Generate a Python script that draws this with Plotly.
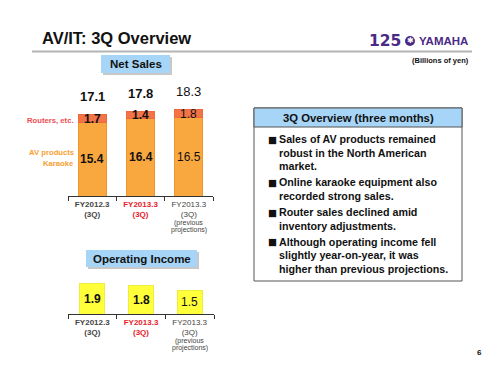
import plotly.graph_objects as go

# ---------------- data ----------------
categories = ["FY2012.3 (3Q)", "FY2013.3 (3Q)", "FY2013.3 (3Q) previous projections"]
tick_labels = [
    "<b>FY2012.3<br>(3Q)</b>",
    "<b><span style='color:#E8202A'>FY2013.3</span><br><span style='color:#E8202A'>(3Q)</span></b>",
    "FY2013.3<br>(3Q)",
]
sub_note = [[], [], ["(previous", "projections)"]]
av_karaoke = [15.4, 16.4, 16.5]
routers = [1.7, 1.4, 1.8]
operating_income = [1.9, 1.8, 1.5]
label_bold = [True, True, False]

overview_title = "3Q Overview (three months)"
bullets = [
    ["Sales of AV products remained", "robust in the North American", "market."],
    ["Online karaoke equipment also", "recorded strong sales."],
    ["Router sales declined amid", "inventory adjustments."],
    ["Although operating income fell", "slightly year-on-year, it was", "higher than previous projections."],
]

W, H = 500, 375
FONT = "Liberation Sans, Arial, sans-serif"


def X(px):
    return px / W


def Y(py):
    return 1 - py / H


ORANGE = "#F9A840"
ORANGE_EDGE = "#F2952C"
RED = "#F47448"
YELLOW = "#FFFF3A"
BLUE = "#A6D5F7"

fig = go.Figure()

fig.add_trace(go.Bar(x=categories, y=av_karaoke, width=0.58, marker=dict(color=ORANGE, line=dict(color=ORANGE_EDGE, width=1)),
                     xaxis="x", yaxis="y", hoverinfo="skip", name="AV products / Karaoke"))
fig.add_trace(go.Bar(x=categories, y=routers, width=0.58, marker=dict(color=RED, line=dict(color="#EE6A3A", width=1)),
                     xaxis="x", yaxis="y", hoverinfo="skip", name="Routers, etc."))
fig.add_trace(go.Bar(x=categories, y=operating_income, width=0.52, marker=dict(color=YELLOW, line=dict(color="#EDED40", width=1)),
                     xaxis="x2", yaxis="y2", hoverinfo="skip", name="Operating Income"))

ann = []


def A(**kw):
    kw.setdefault("xanchor", "center")
    kw.setdefault("yanchor", "middle")
    kw.setdefault("showarrow", False)
    ann.append(kw)


def P(x, y, text, size, color="#111", family=FONT, **kw):
    A(x=X(x), y=Y(y), xref="paper", yref="paper", text=text, font=dict(size=size, color=color, family=family), **kw)


def fmt(v, bold):
    s = f"{v:.1f}"
    return f"<b>{s}</b>" if bold else s


for i, c in enumerate(categories):
    b = label_bold[i]
    tot = av_karaoke[i] + routers[i]
    A(x=c, y=av_karaoke[i] / 2, xref="x", yref="y", text=fmt(av_karaoke[i], b),
      font=dict(size=12, color="#111", family=FONT))
    A(x=c, y=av_karaoke[i] + routers[i] / 2, xref="x", yref="y", text=fmt(routers[i], b),
      font=dict(size=12, color="#111", family=FONT))
    A(x=c, y=tot, xref="x", yref="y", text=fmt(tot, b), yshift=18,
      font=dict(size=13, color="#111", family=FONT))
    A(x=c, y=operating_income[i] / 2, xref="x2", yref="y2", text=fmt(operating_income[i], b),
      font=dict(size=12, color="#111", family=FONT))
    for ax_ref, base_py in (("x", 222.5), ("x2", 341)):
        for k, line in enumerate(sub_note[i]):
            A(x=c, xref=ax_ref, y=Y(base_py + 7.3 * k), yref="paper", text=line,
              font=dict(size=7, color="#444", family=FONT))

# titles / texts
P(40, 38, "<b>AV/IT: 3Q Overview</b>", 16.5, xanchor="left")
P(403, 41, "<b>125</b>", 15.5, color="#4B2A86", family="DejaVu Sans, sans-serif", xanchor="right")
P(410, 41, "<b>✱</b>", 8, color="white", family="DejaVu Sans, sans-serif")
P(470, 41, "<b>YAMAHA</b>", 11.5, color="#4B2A86", xanchor="right")
P(471, 61, "<b>(Billions of yen)</b>", 7.5, xanchor="right")
P(136, 64.5, "<b>Net Sales</b>", 11.5)
P(141.5, 258.5, "<b>Operating Income</b>", 11.5)
P(76, 120, "<b>Routers, etc.</b>", 7.7, color="#EE4E52", xanchor="right")
P(76, 153, "<b>AV products</b>", 7.7, color="#F7A030", xanchor="right")
P(76, 163.5, "<b>Karaoke</b>", 7.7, color="#F7A030", xanchor="right")
P(358, 117.5, "<b>" + overview_title + "</b>", 11.3)
P(479, 352, "<b>6</b>", 8)

# bullet list
py = 139
for para in bullets:
    P(266, py, "■", 9.5, family="DejaVu Sans, sans-serif", xanchor="left")
    for line in para:
        P(277, py, "<b>" + line + "</b>", 10.7, xanchor="left")
        py += 13.5
    py += 2.8

shapes = [
    dict(type="line", xref="paper", yref="paper", x0=X(32), x1=X(472), y0=Y(51.5), y1=Y(51.5),
         line=dict(color="#B4B4B4", width=2)),
    dict(type="circle", xref="paper", yref="paper", x0=X(405), x1=X(415), y0=Y(46), y1=Y(36),
         fillcolor="#4B2A86", line=dict(width=0)),
    dict(type="rect", xref="paper", yref="paper", x0=X(103), x1=X(172), y0=Y(75), y1=Y(57),
         fillcolor="#C8C8C8", line=dict(width=0), layer="below"),
    dict(type="rect", xref="paper", yref="paper", x0=X(101), x1=X(170), y0=Y(73), y1=Y(55),
         fillcolor=BLUE, line=dict(width=0), layer="below"),
    dict(type="rect", xref="paper", yref="paper", x0=X(88), x1=X(199), y0=Y(269), y1=Y(252),
         fillcolor="#C8C8C8", line=dict(width=0), layer="below"),
    dict(type="rect", xref="paper", yref="paper", x0=X(86), x1=X(197), y0=Y(267), y1=Y(250),
         fillcolor=BLUE, line=dict(width=0), layer="below"),
    dict(type="rect", xref="paper", yref="paper", x0=X(254), x1=X(462), y0=Y(281), y1=Y(108),
         fillcolor="white", line=dict(color="#555", width=1), layer="below"),
    dict(type="rect", xref="paper", yref="paper", x0=X(254), x1=X(462), y0=Y(127), y1=Y(108),
         fillcolor=BLUE, line=dict(color="#555", width=1), layer="below"),
]

xaxis_common = dict(type="category", categoryorder="array", categoryarray=categories, range=[-0.5, 2.5],
                    showline=True, linecolor="#333", linewidth=1, ticks="outside", ticklen=4, tickcolor="#333",
                    tickson="boundaries", showgrid=False, zeroline=False, tickmode="array", tickvals=categories,
                    ticktext=tick_labels, tickfont=dict(size=8, color="#444", family=FONT), fixedrange=True)

fig.update_layout(
    width=W, height=H, margin=dict(l=0, r=0, t=0, b=0),
    paper_bgcolor="white", plot_bgcolor="rgba(0,0,0,0)",
    barmode="stack", bargap=0.4, showlegend=False,
    xaxis=dict(domain=[X(68), X(213)], anchor="y", **xaxis_common),
    yaxis=dict(domain=[Y(196), Y(100)], range=[0, 20.25], visible=False, fixedrange=True),
    xaxis2=dict(domain=[X(68), X(214)], anchor="y2", **xaxis_common),
    yaxis2=dict(domain=[Y(314), Y(274)], range=[0, 2.5], visible=False, fixedrange=True),
    annotations=ann, shapes=shapes,
    font=dict(family=FONT),
)

fig.write_html("out.html", config={"displayModeBar": False},
               post_script="document.body.style.margin='0';document.body.style.overflow='hidden';")
